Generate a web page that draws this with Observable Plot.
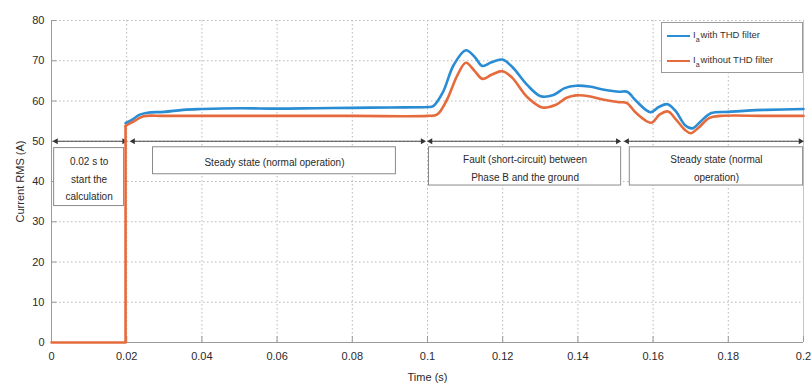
<!DOCTYPE html>
<html>
<head>
<meta charset="utf-8">
<script src="https://cdn.jsdelivr.net/npm/d3@7"></script>
<script src="https://cdn.jsdelivr.net/npm/@observablehq/plot@0.6"></script>
<style>
  body { margin: 0; background: white; }
  #wrap { position: relative; width: 811px; height: 385px; }
  .legend { position: absolute; left: 661px; top: 22px; width: 142px; height: 51px;
    border: 1px solid #9a9a9a; background: white; font-family: "Liberation Sans", Arial, sans-serif;
    font-size: 9.5px; color: #333; box-sizing: border-box; }
  .legend .row { position: absolute; left: 5px; display: flex; align-items: center; white-space: nowrap; }
  .legend .sw { width: 23px; height: 2px; margin-right: 3px; }
  .legend sub { font-size: 7px; vertical-align: -4px; margin-right: 1px; }
</style>
</head>
<body>
<div id="wrap"></div>
<script>
// ---- data ----
const xTicks = [0, 0.02, 0.04, 0.06, 0.08, 0.1, 0.12, 0.14, 0.16, 0.18, 0.2];
const xTickLabels = ["0", "0.02", "0.04", "0.06", "0.08", "0.1", "0.12", "0.14", "0.16", "0.18", "0.2"];
const yTicks = [0, 10, 20, 30, 40, 50, 60, 70, 80];

// I_a with THD filter (blue)
const blueT = [0.0197, 0.0215, 0.0235, 0.0255, 0.03, 0.035, 0.04, 0.05, 0.06, 0.07, 0.08, 0.09, 0.1, 0.1015,
  0.104, 0.107, 0.1102, 0.1125, 0.1146, 0.117, 0.1199, 0.1225, 0.1265, 0.1301, 0.1335, 0.1365, 0.1395, 0.143,
  0.147, 0.151, 0.1531, 0.1555, 0.1593, 0.1615, 0.1638, 0.166, 0.1685, 0.1705, 0.1725, 0.1755, 0.18, 0.185, 0.19, 0.2];
const blueI = [54.5, 55.4, 56.6, 57.1, 57.3, 57.8, 58.0, 58.2, 58.1, 58.2, 58.3, 58.4, 58.5, 58.7,
  62.0, 69.0, 72.6, 71.0, 68.7, 69.6, 70.3, 68.5, 64.0, 61.2, 61.5, 63.2, 63.8, 63.6,
  62.8, 62.3, 62.3, 60.0, 57.2, 58.5, 59.2, 57.5, 54.0, 53.2, 54.8, 57.0, 57.3, 57.6, 57.8, 58.0];

// I_a without THD filter (orange)
const orangeT = [0, 0.0197, 0.0197, 0.0200, 0.022, 0.0245, 0.03, 0.05, 0.08, 0.1, 0.1025, 0.105, 0.108, 0.1102,
  0.1125, 0.1146, 0.117, 0.12, 0.1225, 0.1265, 0.1305, 0.134, 0.137, 0.1395, 0.143, 0.147, 0.151, 0.153,
  0.1555, 0.1595, 0.1617, 0.164, 0.166, 0.1685, 0.170, 0.172, 0.175, 0.178, 0.19, 0.2];
const orangeI = [0, 0, 53.8, 54.0, 55.0, 56.2, 56.3, 56.3, 56.3, 56.3, 56.6, 60.0, 66.5, 69.5,
  67.5, 65.5, 66.5, 67.4, 65.8, 61.0, 58.4, 59.0, 60.8, 61.4, 61.2, 60.3, 59.7, 59.5,
  57.0, 54.6, 56.6, 57.4, 55.5, 52.8, 52.0, 53.3, 55.8, 56.3, 56.3, 56.3];

// annotation intervals (arrows along I = 50)
const spanStart = [0.0012, 0.0217, 0.1008, 0.1531];
const spanEnd   = [0.0193, 0.0987, 0.1506, 0.1992];
const spanLevel = 50;

// annotation boxes
const boxText = ["0.02 s to\nstart the\ncalculation", "Steady state (normal operation)",
  "Fault (short-circuit) between\nPhase B and the ground", "Steady state (normal\noperation)"];
const boxX1 = [0.0007, 0.027, 0.1004, 0.1538];
const boxX2 = [0.0193, 0.0916, 0.1515, 0.1999];
const boxY1 = [33.9, 41.8, 39.0, 39.0];
const boxY2 = [48.3, 48.5, 48.5, 48.5];

const seriesNames = ["with THD filter", "without THD filter"];
const seriesColors = ["#2a8cd3", "#e66b3c"];

// ---- build tables ----
const blue = blueT.map((t, i) => ({t, v: blueI[i]}));
const orangeStep = orangeT.slice(0, 3).map((t, i) => ({t, v: orangeI[i]}));
const orangeSmooth = orangeT.slice(2).map((t, i) => ({t, v: orangeI[i + 2]}));
const spans = spanStart.map((s, i) => ({x1: s, x2: spanEnd[i], y: spanLevel}));
const boxes = boxText.map((text, i) => ({text, x1: boxX1[i], x2: boxX2[i], y1: boxY1[i], y2: boxY2[i],
  cx: (boxX1[i] + boxX2[i]) / 2, cy: (boxY1[i] + boxY2[i]) / 2}));

const font = "'Liberation Sans', Arial, Helvetica, sans-serif";

const chart = Plot.plot({
  width: 811,
  height: 385,
  marginLeft: 51,
  marginRight: 8,
  marginTop: 20,
  marginBottom: 43,
  style: {fontFamily: font, fontSize: "11px", color: "#2a2a2a", background: "white", overflow: "visible"},
  x: {domain: [0, 0.2]},
  y: {domain: [0, 80]},
  marks: [
    Plot.gridX(xTicks, {stroke: "#b8b8b8", strokeOpacity: 1, strokeDasharray: "1.5,2.5"}),
    Plot.gridY(yTicks, {stroke: "#b8b8b8", strokeOpacity: 1, strokeDasharray: "1.5,2.5"}),
    Plot.ruleY([0], {stroke: "#9a9a9a"}),
    Plot.ruleX([0], {stroke: "#9a9a9a"}),
    Plot.ruleX([0.2], {stroke: "#c4c4c4"}),
    Plot.ruleX(xTicks, {y1: 0, y2: 1.5, stroke: "#9a9a9a"}),
    Plot.ruleY(yTicks, {x1: 0, x2: 0.0015, stroke: "#9a9a9a"}),
    Plot.axisX(xTicks, {tickSize: 0, tickPadding: 10, tickFormat: d => xTickLabels[xTicks.indexOf(d)],
      label: "Time (s)", labelAnchor: "center", labelArrow: "none", labelOffset: 38, fill: "#2a2a2a"}),
    Plot.axisY(yTicks, {tickSize: 0, tickPadding: 7,
      label: "Current RMS (A)", labelAnchor: "center", labelArrow: "none", labelOffset: 35, fill: "#2a2a2a"}),
    // annotation arrows
    Plot.ruleY(spans, {x1: "x1", x2: "x2", y: "y", stroke: "#444", strokeWidth: 1}),
    Plot.dot(spans, {x: "x1", y: "y", symbol: "triangle", rotate: -90, r: 2.2, fill: "#333", stroke: null}),
    Plot.dot(spans, {x: "x2", y: "y", symbol: "triangle", rotate: 90, r: 2.2, fill: "#333", stroke: null}),
    // boxes
    Plot.rect(boxes, {x1: "x1", x2: "x2", y1: "y1", y2: "y2", fill: "white", stroke: "#8a8a8a", strokeWidth: 1}),
    Plot.text(boxes, {x: "cx", y: "cy", text: "text", fontSize: 10, lineHeight: 1.75, fill: "#2a2a2a"}),
    // series
    Plot.line(orangeStep, {x: "t", y: "v", stroke: seriesColors[1], strokeWidth: 2.6, curve: "linear"}),
    Plot.line(blue, {x: "t", y: "v", stroke: seriesColors[0], strokeWidth: 2.6, curve: "catmull-rom"}),
    Plot.line(orangeSmooth, {x: "t", y: "v", stroke: seriesColors[1], strokeWidth: 2.6, curve: "catmull-rom"})
  ]
});

const wrap = document.getElementById("wrap");
wrap.appendChild(chart);

// legend
const legend = document.createElement("div");
legend.className = "legend";
seriesNames.forEach((name, i) => {
  const row = document.createElement("div");
  row.className = "row";
  row.style.top = (i === 0 ? 6 : 31) + "px";
  const sw = document.createElement("span");
  sw.className = "sw";
  sw.style.background = seriesColors[i];
  const lab = document.createElement("span");
  lab.innerHTML = "I<sub>a</sub>" + name;
  row.appendChild(sw);
  row.appendChild(lab);
  legend.appendChild(row);
});
wrap.appendChild(legend);
</script>
</body>
</html>
